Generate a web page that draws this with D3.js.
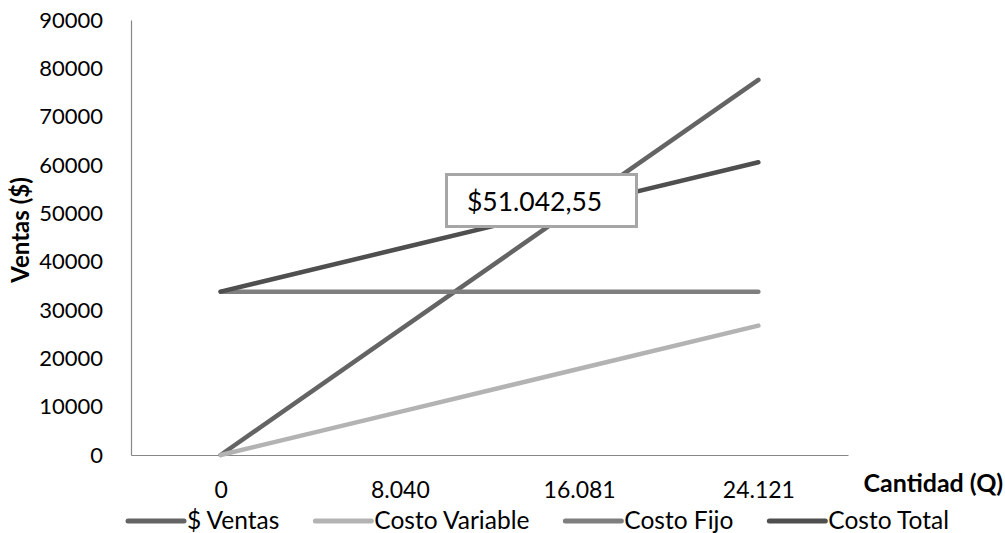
<!DOCTYPE html>
<html>
<head>
<meta charset="utf-8">
<script src="https://cdn.jsdelivr.net/npm/d3@7"></script>
<style>
  html, body { margin: 0; padding: 0; background: #fff; }
  svg { display: block; }
  text { font-family: Lato, "Noto Sans", sans-serif; fill: #000; }
</style>
</head>
<body>
<svg id="chart" width="1005" height="533"></svg>
<script>
// ---- Data ----
const categories = ["0", "8.040", "16.081", "24.121"];
const seriesNames = ["$ Ventas", "Costo Variable", "Costo Fijo", "Costo Total"];
const ventas        = [0, 25870, 51740, 77610];
const costoVariable = [0, 8920, 17840, 26760];
const costoFijo     = [33800, 33800, 33800, 33800];
const costoTotal    = [33800, 42720, 51640, 60560];
const yTicks = [0, 10000, 20000, 30000, 40000, 50000, 60000, 70000, 80000, 90000];
const breakEvenLabel = "$51.042,55";
const yTitle = "Ventas ($)";
const xTitle = "Cantidad (Q)";

const seriesValues = [ventas, costoVariable, costoFijo, costoTotal];
const seriesColors = ["#646464", "#b3b3b3", "#7f7f7f", "#4f4f4f"];

const svg = d3.select("#chart");

const x = d3.scalePoint().domain(categories).range([131, 848]).padding(0.5);
const y = d3.scaleLinear().domain([0, 90000]).range([455, 20]);

// axes
const gy = svg.append("g").attr("transform", "translate(131,0)")
  .call(d3.axisLeft(y).tickValues(yTicks).tickSize(0).tickPadding(28).tickFormat(d3.format("d")));
gy.select(".domain").attr("stroke", "#878787").attr("stroke-width", 1.2);
gy.selectAll("text").style("font-size", "22px").style("font-family", "Lato");

const gx = svg.append("g").attr("transform", "translate(0,455)")
  .call(d3.axisBottom(x).tickSize(0).tickPadding(27));
gx.select(".domain").attr("stroke", "#878787").attr("stroke-width", 1.2);
gx.selectAll("text").style("font-size", "23px").style("font-family", "Lato");

// axis titles
svg.append("text")
  .attr("transform", "translate(29,230) rotate(-90)")
  .attr("text-anchor", "middle")
  .style("font-size", "24px").style("font-weight", "bold")
  .text(yTitle);

svg.append("text")
  .attr("x", 1003).attr("y", 492)
  .attr("text-anchor", "end")
  .style("font-size", "25px").style("font-weight", "bold")
  .text(xTitle);

// lines
const line = d3.line().x((d, i) => x(categories[i])).y(d => y(d));
seriesValues.forEach((vals, k) => {
  svg.append("path")
    .datum(vals)
    .attr("fill", "none")
    .attr("stroke", seriesColors[k])
    .attr("stroke-width", 4.5)
    .attr("stroke-linecap", "round")
    .attr("stroke-linejoin", "round")
    .attr("d", line);
});

// break-even label box
const box = svg.append("g");
box.append("rect")
  .attr("x", 446.5).attr("y", 174.5).attr("width", 190).attr("height", 52)
  .attr("fill", "#fff").attr("stroke", "#a6a6a6").attr("stroke-width", 3);
box.append("text")
  .attr("x", 467).attr("y", 211)
  .style("font-size", "26.5px")
  .text(breakEvenLabel);

// legend
const legend = svg.append("g");
let lx = 128;
const ly = 521;
seriesNames.forEach((name, k) => {
  legend.append("line")
    .attr("x1", lx).attr("x2", lx + 56).attr("y1", ly).attr("y2", ly)
    .attr("stroke", seriesColors[k]).attr("stroke-width", 5).attr("stroke-linecap", "round");
  const t = legend.append("text")
    .attr("x", lx + 59).attr("y", 528.5)
    .style("font-size", "24.5px")
    .text(name);
  const w = t.node().getComputedTextLength();
  lx = lx + 59 + w + 36;
});
</script>
</body>
</html>
